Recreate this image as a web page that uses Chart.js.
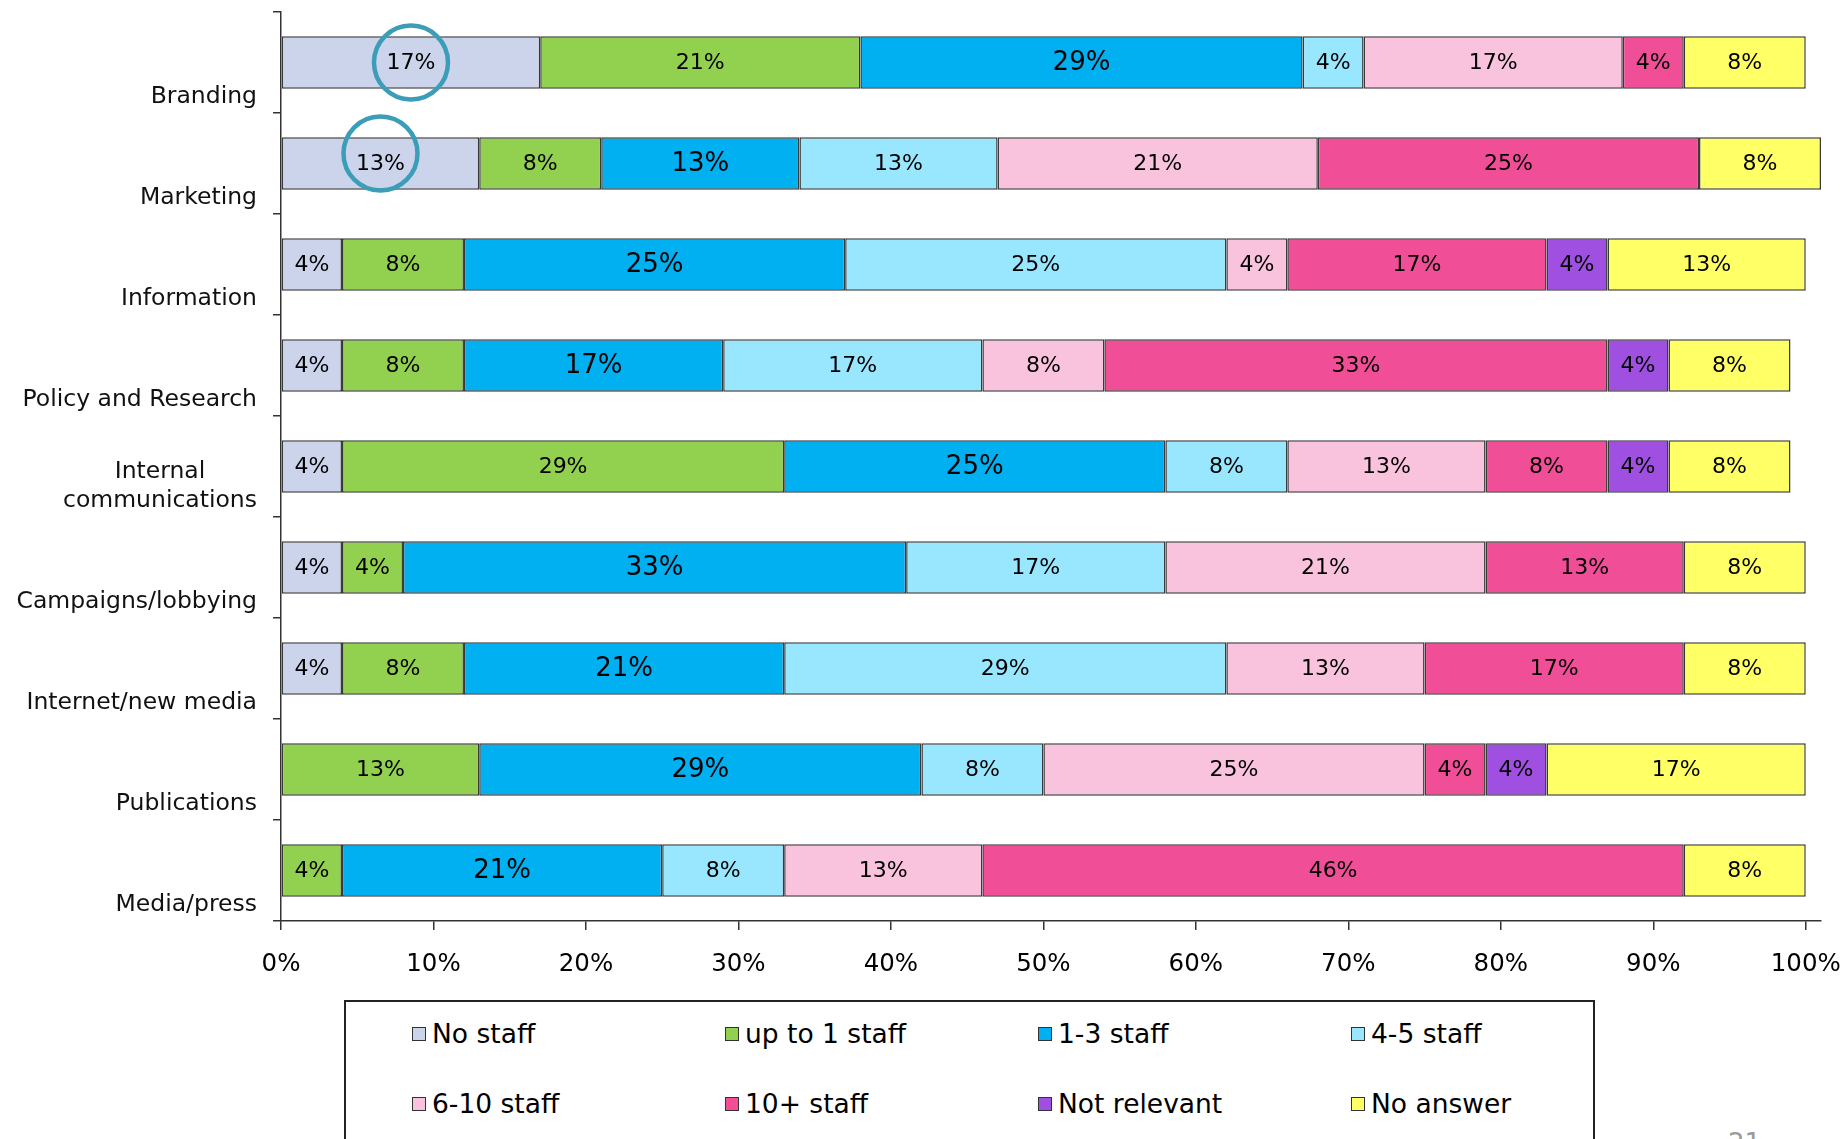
<!DOCTYPE html>
<html lang="en">
<head>
<meta charset="UTF-8">
<title>Staff by function</title>
<script src="https://cdn.jsdelivr.net/npm/chart.js"></script>
<style>
  body { margin: 0; background: #fff; font-family: 'DejaVu Sans', Verdana, sans-serif; }
  #page { position: relative; width: 1845px; height: 1139px; overflow: hidden; }
  #wrap { position: absolute; left: 0; top: 0; width: 1845px; height: 1000px; }
  #legendBox { position: absolute; left: 344px; top: 1000px; width: 1251px; height: 200px;
               border: 2px solid #222; box-sizing: border-box; }
  .item { position: absolute; height: 36px; line-height: 36px; font-size: 26.5px; color: #000;
          display: flex; align-items: center; white-space: nowrap; }
  .sw { width: 12px; height: 12px; border: 1.5px solid #333; margin-right: 6px; }
  #pageNo { position: absolute; left: 1728px; top: 1128px; font-size: 26px; color: #9a9a9a; }
</style>
</head>
<body>
<div id="page">
  <div id="wrap"><canvas id="barChart"></canvas></div>
  <div id="legendBox"></div>
  <div id="pageNo">21</div>
</div>

<script>
// categories, top to bottom
const categories = ["Branding", "Marketing", "Information", "Policy and Research",
  ["Internal", "communications"], "Campaigns/lobbying", "Internet/new media",
  "Publications", "Media/press"];

// series values (% of respondents)
const noStaff     = [17, 13, 4, 4, 4, 4, 4, 0, 0];
const upTo1       = [21, 8, 8, 8, 29, 4, 8, 13, 4];
const staff1to3   = [29, 13, 25, 17, 25, 33, 21, 29, 21];
const staff4to5   = [4, 13, 25, 17, 8, 17, 29, 8, 8];
const staff6to10  = [17, 21, 4, 8, 13, 21, 13, 25, 13];
const staff10plus = [4, 25, 17, 33, 8, 13, 17, 4, 46];
const notRelevant = [0, 0, 4, 4, 4, 0, 0, 4, 0];
const noAnswer    = [8, 8, 13, 8, 8, 8, 8, 17, 8];

const seriesNames = ["No staff", "up to 1 staff", "1-3 staff", "4-5 staff",
  "6-10 staff", "10+ staff", "Not relevant", "No answer"];
const seriesValues = [noStaff, upTo1, staff1to3, staff4to5, staff6to10, staff10plus, notRelevant, noAnswer];
const colors = ["#CCD4EC", "#92D050", "#00B0F0", "#99E6FF", "#F9C3DE", "#F04F97", "#A050E0", "#FFFF66"];

const xTicks = [0, 10, 20, 30, 40, 50, 60, 70, 80, 90, 100];

const FONT = "'DejaVu Sans', Verdana, sans-serif";
Chart.defaults.font.family = FONT;

// labels inside the segments
const segLabels = {
  id: "segLabels",
  afterDatasetsDraw(chart) {
    const ctx = chart.ctx;
    ctx.save();
    ctx.fillStyle = "#000";
    ctx.textAlign = "center";
    ctx.textBaseline = "middle";
    chart.data.datasets.forEach((ds, di) => {
      const meta = chart.getDatasetMeta(di);
      ctx.font = (di === 2 ? "26px " : "22px ") + FONT;
      meta.data.forEach((el, i) => {
        const v = ds.data[i];
        if (!v) return;
        const p = el.getCenterPoint();
        ctx.fillText(v + "%", p.x, p.y + 1);
      });
    });
    // circled values
    ctx.strokeStyle = "#3C9DB8";
    ctx.lineWidth = 4.5;
    [[0, 0], [1, -10]].forEach(([i, dy]) => {
      const p = chart.getDatasetMeta(0).data[i].getCenterPoint();
      ctx.beginPath();
      ctx.ellipse(p.x, p.y + dy, 37, 37, 0, 0, Math.PI * 2);
      ctx.stroke();
    });
    ctx.restore();
  }
};

// category labels sitting low in each band
const catLabels = {
  id: "catLabels",
  afterDraw(chart) {
    const ctx = chart.ctx;
    const y = chart.scales.y;
    ctx.save();
    ctx.fillStyle = "#111";
    ctx.font = "23.5px " + FONT;
    ctx.textBaseline = "middle";
    categories.forEach((lab, i) => {
      const lines = Array.isArray(lab) ? lab : [lab];
      const cy = y.getPixelForValue(i);
      const right = 257;
      const maxW = Math.max(...lines.map(l => ctx.measureText(l).width));
      lines.forEach((l, j) => {
        const ly = cy + 34 - (lines.length - 1 - j) * 29;
        if (lines.length > 1) {
          ctx.textAlign = "center";
          ctx.fillText(l, right - maxW / 2, ly);
        } else {
          ctx.textAlign = "right";
          ctx.fillText(l, right, ly);
        }
      });
    });
    ctx.restore();
  }
};

new Chart(document.getElementById("barChart"), {
  type: "bar",
  data: {
    labels: categories,
    datasets: seriesNames.map((name, k) => ({
      label: name,
      data: seriesValues[k].map(v => v || null),
      backgroundColor: colors[k],
      borderColor: "#3a3a3a",
      borderWidth: 1.5,
      borderSkipped: false,
      categoryPercentage: 1,
      barPercentage: 0.52
    }))
  },
  options: {
    indexAxis: "y",
    responsive: true,
    maintainAspectRatio: false,
    animation: false,
    layout: { autoPadding: false, padding: { top: 12, right: 24, left: 0, bottom: 0 } },
    plugins: { legend: { display: false }, tooltip: { enabled: false } },
    scales: {
      x: {
        stacked: true,
        min: 0,
        max: 101,
        afterBuildTicks: s => { s.ticks = xTicks.map(v => ({ value: v })); },
        afterFit: s => { s.height = 79; s.paddingLeft = 0; s.paddingRight = 0; },
        grid: { drawOnChartArea: false, drawTicks: true, tickLength: 9, color: "#333", lineWidth: 1.5 },
        border: { display: true, color: "#333", width: 1.5 },
        ticks: { color: "#000", font: { size: 24.5 }, padding: 20, maxRotation: 0, callback: v => v + "%" }
      },
      y: {
        stacked: true,
        afterFit: s => { s.width = 281; },
        grid: { drawOnChartArea: false, drawTicks: true, tickLength: 8, color: "#333", lineWidth: 1.5 },
        border: { display: true, color: "#333", width: 1.5 },
        ticks: { display: false }
      }
    }
  },
  plugins: [segLabels, catLabels]
});

// legend box
const box = document.getElementById("legendBox");
seriesNames.forEach((name, k) => {
  const col = k % 4, row = Math.floor(k / 4);
  const it = document.createElement("div");
  it.className = "item";
  it.style.left = (412 - 346 + col * 313) + "px";
  it.style.top = (1034 - 1002 - 18 + row * 70) + "px";
  const sw = document.createElement("span");
  sw.className = "sw";
  sw.style.background = colors[k];
  it.appendChild(sw);
  it.appendChild(document.createTextNode(name));
  box.appendChild(it);
});
</script>
</body>
</html>
